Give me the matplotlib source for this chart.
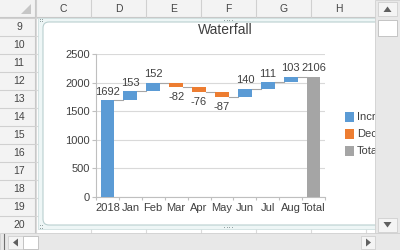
import matplotlib
matplotlib.use('Agg')
import matplotlib.pyplot as plt
from matplotlib.patches import Rectangle, FancyBboxPatch, Polygon

plt.rcParams['font.family'] = ['Liberation Sans', 'DejaVu Sans']

# chart data
categories = ['2018', 'Jan', 'Feb', 'Mar', 'Apr', 'May', 'Jun', 'Jul', 'Aug', 'Total']
changes = [1692, 153, 152, -82, -76, -87, 140, 111, 103]
total = 2106
legend_labels = ['Increase', 'Decrease', 'Total']
col_letters = ['C', 'D', 'E', 'F', 'G', 'H']
row_numbers = list(range(9, 21))

c_inc = '#5B9BD5'
c_dec = '#ED7D31'
c_tot = '#A5A5A5'
txt = '#404040'

fig = plt.figure(figsize=(4, 2.5), dpi=100)

# background: the spreadsheet, in pixel units
bg = fig.add_axes([0, 0, 1, 1])
bg.set_xlim(0, 400)
bg.set_ylim(250, 0)
bg.axis('off')


def rect(x0, y0, x1, y1, fc, ec='none', lw=0.8, z=1):
    bg.add_patch(Rectangle((x0, y0), x1 - x0, y1 - y0, fc=fc, ec=ec, lw=lw, zorder=z))


rect(0, 0, 400, 250, 'white', z=0)

# cell gridlines
col_edges = [36, 91, 146, 201, 256, 311, 366]
for x in col_edges:
    bg.plot([x, x], [17, 233], color='#DADADA', lw=0.8, zorder=0.5)
for i in range(len(row_numbers) + 1):
    y = 18 + 18 * i
    bg.plot([36, 375], [y, y], color='#DADADA', lw=0.8, zorder=0.5)

# header row and row header column
rect(0, 0, 375, 17, '#F3F3F3', z=1)
bg.plot([0, 375], [17, 17], color='#C8C8C8', lw=0.8, zorder=1.2)
for i, letter in enumerate(col_letters):
    x0, x1 = col_edges[i], col_edges[i + 1]
    bg.plot([x0, x0], [0, 17], color='#D0D0D0', lw=0.8, zorder=1.2)
    bg.text((x0 + x1) / 2, 9, letter, ha='center', va='center', fontsize=7.5,
            color='#444444', zorder=1.3)
rect(0, 0, 35, 233, '#F3F3F3', z=1)
bg.plot([35, 35], [0, 233], color='#C8C8C8', lw=0.8, zorder=1.2)
bg.add_patch(Polygon([(31, 4), (31, 14), (21, 14)], closed=True, fc='#C6C6C6',
                     ec='none', zorder=1.3))
for i, r in enumerate(row_numbers):
    y0 = 18 + 18 * i
    bg.plot([0, 35], [y0, y0], color='#D0D0D0', lw=0.8, zorder=1.2)
    bg.text(19, y0 + 9.5, str(r), ha='center', va='center', fontsize=7.5,
            color='#444444', zorder=1.3)

# chart frame (selected)
rect(38, 18, 380, 229, '#EEF6F6', ec='#CFE0E0', lw=0.6, z=2)
bg.add_patch(FancyBboxPatch((43, 22), 340, 203, boxstyle='round,pad=0,rounding_size=6',
                            fc='white', ec='#B9CFCF', lw=0.8, zorder=2.1))
for (hx, hy) in [(39.5, 20), (39.5, 226.5)]:
    for dx in (0, 2.5):
        for dy in (-1.2, 1.2):
            bg.plot(hx + dx, hy + dy, 's', ms=0.6, mew=0, color='#8A9A9A', zorder=2.2)
for hy in (19.8, 227):
    for dx in (-3.6, -1.2, 1.2, 3.6):
        bg.plot(228 + dx, hy, 's', ms=0.6, mew=0, color='#8A9A9A', zorder=2.2)

bg.text(225, 30, 'Waterfall', ha='center', va='center', fontsize=10, color=txt,
        zorder=3)

# legend (clipped by the scrollbar)
for i, (lab, col) in enumerate(zip(legend_labels, [c_inc, c_dec, c_tot])):
    y0 = 112 + 17 * i
    rect(345, y0, 354, y0 + 10, col, z=3)
    bg.text(357, y0 + 5, lab, ha='left', va='center', fontsize=8, color=txt, zorder=3)

# scrollbars
rect(375, 0, 400, 233, '#E8E8E8', ec='#D0D0D0', lw=0.6, z=5)
rect(378, 2, 397, 16, '#F4F4F4', ec='#CFCFCF', lw=0.6, z=5.1)
bg.add_patch(Polygon([(383.5, 12), (391.5, 12), (387.5, 6.5)], fc='#606060', ec='none', zorder=5.2))
rect(378, 20, 397, 36, 'white', ec='#BDBDBD', lw=0.6, z=5.1)
rect(378, 218, 397, 232, '#F4F4F4', ec='#CFCFCF', lw=0.6, z=5.1)
bg.add_patch(Polygon([(383.5, 222), (391.5, 222), (387.5, 227.5)], fc='#606060', ec='none', zorder=5.2))
rect(0, 233, 400, 250, '#E8E8E8', ec='#D0D0D0', lw=0.6, z=5)
bg.plot([4, 4], [234, 250], color='#707070', lw=0.8, zorder=5.1)
rect(8, 236, 23, 249, '#F4F4F4', ec='#CFCFCF', lw=0.6, z=5.1)
bg.add_patch(Polygon([(18, 238.5), (18, 246.5), (13, 242.5)], fc='#606060', ec='none', zorder=5.2))
rect(23, 236, 38, 249, 'white', ec='#BDBDBD', lw=0.6, z=5.1)
rect(361, 236, 375, 249, '#F4F4F4', ec='#CFCFCF', lw=0.6, z=5.1)
bg.add_patch(Polygon([(366, 238.5), (366, 246.5), (371, 242.5)], fc='#606060', ec='none', zorder=5.2))

# the waterfall plot
ax = fig.add_axes([96 / 400, (250 - 197) / 250, 229 / 400, (197 - 54) / 250])
ax.set_zorder(2)
ax.patch.set_alpha(0)

w = 0.6
level = 0
ends = []
for i, v in enumerate(changes):
    bottom = level if v >= 0 else level + v
    ax.bar(i, abs(v), w, bottom=bottom, color=c_inc if v >= 0 else c_dec, zorder=3)
    level += v
    ends.append(level)
    if v >= 0:
        ax.annotate(str(v), (i, level), xytext=(0, 2.5), textcoords='offset points',
                    ha='center', va='bottom', fontsize=8, color=txt)
    else:
        ax.annotate(str(v), (i, level), xytext=(0, -3.5), textcoords='offset points',
                    ha='center', va='top', fontsize=8, color=txt)
n = len(changes)
ax.bar(n, total, w, color=c_tot, zorder=3)
ax.annotate(str(total), (n, total), xytext=(0, 2.5), textcoords='offset points',
            ha='center', va='bottom', fontsize=8, color=txt)
for i, e in enumerate(ends):
    ax.plot([i + w / 2, i + 1 - w / 2], [e, e], color='#A6A6A6', lw=0.8, zorder=2)

ax.set_xlim(-0.5, len(categories) - 0.5)
ax.set_ylim(0, 2500)
ax.set_yticks(range(0, 2501, 500))
ax.yaxis.grid(True, color='#D9D9D9', lw=0.8)
ax.set_axisbelow(True)
ax.set_xticks(range(len(categories)))
ax.set_xticklabels(categories)
ax.set_xticks([i - 0.5 for i in range(len(categories) + 1)], minor=True)
ax.tick_params(axis='x', which='major', length=0, pad=4, labelsize=8, labelcolor=txt)
ax.tick_params(axis='x', which='minor', length=2.5, color='#BFBFBF', width=0.8)
ax.tick_params(axis='y', length=3, color='#BFBFBF', width=0.8, pad=1.5,
               labelsize=8, labelcolor=txt)
for s in ['top', 'right']:
    ax.spines[s].set_visible(False)
for s in ['left', 'bottom']:
    ax.spines[s].set_color('#BFBFBF')
    ax.spines[s].set_linewidth(0.8)

fig.savefig('out.png', dpi=100)
